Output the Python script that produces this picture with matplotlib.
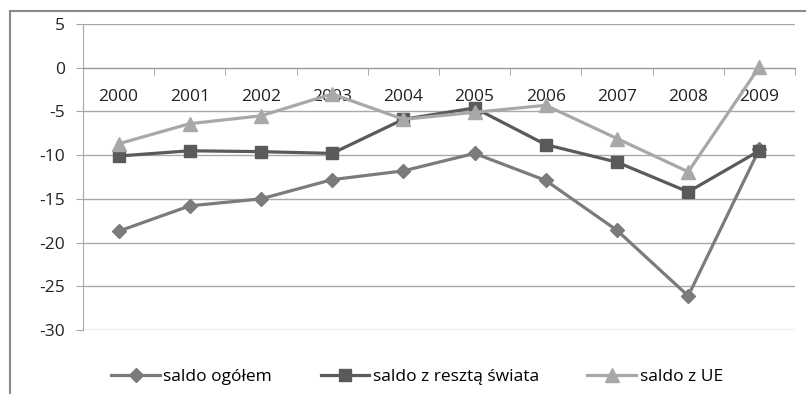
import numpy as np
import matplotlib.pyplot as plt
from matplotlib.lines import Line2D

plt.rcParams['font.family'] = ['Open Sans', 'DejaVu Sans']
plt.rcParams['axes.unicode_minus'] = False

# saldo handlu (mld) w latach 2000-2009
years = ["2000", "2001", "2002", "2003", "2004", "2005", "2006", "2007", "2008", "2009"]
saldo_ogolem = [-18.7, -15.8, -15.0, -12.8, -11.8, -9.8, -12.9, -18.6, -26.1, -9.3]
saldo_swiat = [-10.1, -9.5, -9.6, -9.8, -5.9, -4.6, -8.8, -10.8, -14.2, -9.5]
saldo_ue = [-8.7, -6.4, -5.5, -3.0, -5.9, -5.1, -4.3, -8.1, -11.9, 0.1]

W, H = 806, 394
fig = plt.figure(figsize=(W / 100, H / 100), dpi=100)
ax = fig.add_axes([83 / W, 64 / H, 712 / W, 306 / H])

x = np.arange(len(years))
ax.plot(x, saldo_ogolem, color="#7b7b7b", lw=2.3, marker="D", ms=7,
        label="saldo ogółem", zorder=3)
ax.plot(x, saldo_swiat, color="#5a5a5a", lw=2.3, marker="s", ms=9,
        label="saldo z resztą świata", zorder=4)
ax.plot(x, saldo_ue, color="#a8a8a8", lw=2.3, marker="^", ms=10,
        label="saldo z UE", zorder=5)

ax.set_xlim(-0.5, len(years) - 0.5)
ax.set_ylim(-30, 5)
ax.set_yticks(np.arange(-30, 6, 5))
ax.yaxis.grid(True, color="#a9a9a9", lw=1)
ax.set_axisbelow(True)

# os X przechodzi przez zero, kreski pomiedzy kategoriami
for s in ["top", "right"]:
    ax.spines[s].set_visible(False)
ax.spines["bottom"].set_position(("data", 0))
ax.spines["bottom"].set_color("#9a9a9a")
ax.spines["left"].set_color("#a9a9a9")
ax.set_xticks(x)
ax.set_xticklabels(years)
ax.set_xticks(np.arange(0.5, len(years), 1), minor=True)
ax.tick_params(axis="x", which="major", length=0, pad=15, labelsize=12.5, labelcolor="#222222")
ax.tick_params(axis="x", which="minor", length=5, color="#9a9a9a", direction="out")
ax.tick_params(axis="y", length=5, color="#a9a9a9", pad=8, labelsize=12.5, labelcolor="#222222")

fig.legend(loc="center", bbox_to_anchor=(417 / W, 17 / H), ncol=3, frameon=False,
           fontsize=12.5, handlelength=2.8, columnspacing=2.8, handletextpad=0.2)

# ramka wykresu
fig.add_artist(Line2D([10 / W, 10 / W], [0, 1 - 11 / H], color="#8a8a8a", lw=1.5))
fig.add_artist(Line2D([10 / W, 1], [1 - 11 / H, 1 - 11 / H], color="#8a8a8a", lw=1.5))

fig.savefig("out.png", dpi=100)
